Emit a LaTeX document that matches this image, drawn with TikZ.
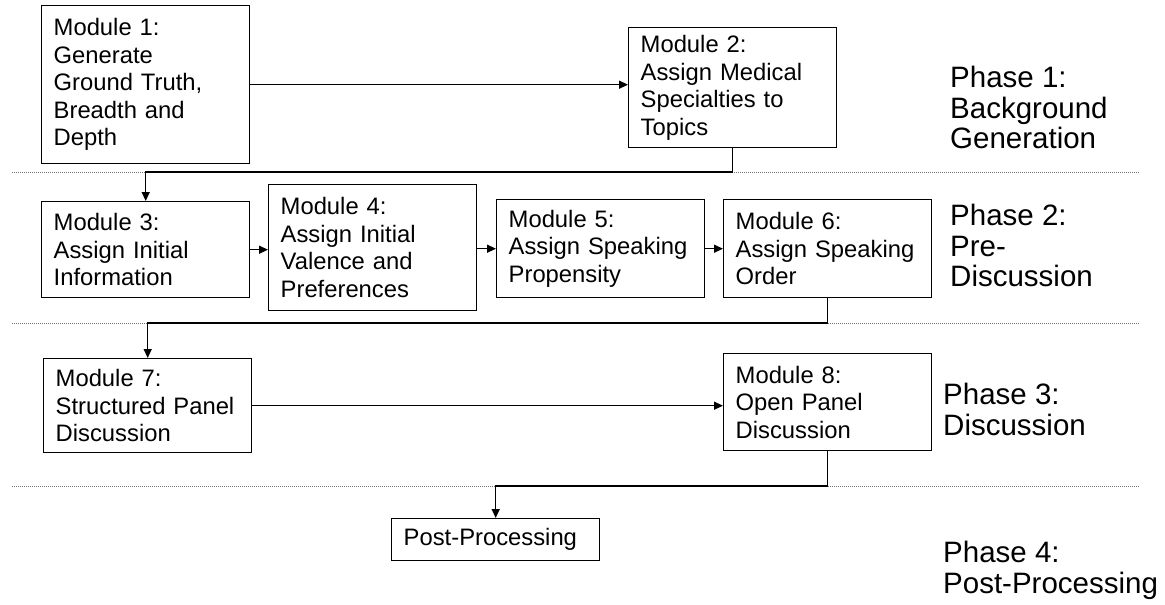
\documentclass[tikz,border=0pt]{standalone}
\usepackage{fontspec}
\setmainfont{Liberation Sans}
\usetikzlibrary{arrows.meta,positioning}
\tikzset{
  md/.style={draw=black,line width=1.4pt,anchor=north west,align=left,text width=184pt,inner xsep=12pt,inner ysep=0pt,font=\fontsize{23.8}{27.5}\selectfont},
  ph/.style={anchor=north west,align=left,inner sep=0pt,font=\fontsize{29.5}{30.5}\selectfont},
  sep/.style={draw=black!55,line width=1pt,dash pattern=on 1pt off 1pt},
  flw/.style={-{Triangle[length=9pt,width=8pt]},line width=1.4pt},
}

\begin{document}
\begin{tikzpicture}[x=1pt,y=-1pt]
\useasboundingbox (0,0) rectangle (1165,605);
% phase separators
\coordinate (s1a) at (12,172); \coordinate (s1b) at (1140,172);
\coordinate (s2a) at (12,323); \coordinate (s2b) at (1140,323);
\coordinate (s3a) at (12,486); \coordinate (s3b) at (1140,486);
\draw[sep] (s1a)--(s1b) (s2a)--(s2b) (s3a)--(s3b);
% modules
\node[md,minimum height=158pt] (m1) at (41,5) {Module 1:\\Generate\\Ground Truth,\\Breadth and\\Depth};
\node[md,minimum height=120pt] (m2) at (628,27) {Module 2:\\Assign Medical\\Specialties to\\Topics};
\node[md,minimum height=96pt] (m3) at (41,201) {Module 3:\\Assign Initial\\Information};
\node[md,minimum height=126pt] (m4) at (268,184) {Module 4:\\Assign Initial\\Valence and\\Preferences};
\node[md,minimum height=98pt] (m5) at (496,199) {Module 5:\\Assign Speaking\\Propensity};
\node[md,minimum height=98pt] (m6) at (723,199) {Module 6:\\Assign Speaking\\Order};
\node[md,minimum height=94pt] (m7) at (43,358) {Module 7:\\Structured Panel\\Discussion};
\node[md,minimum height=97pt] (m8) at (723,353) {Module 8:\\Open Panel\\Discussion};
\node[md,minimum height=42pt] (pp) at (391,518) {Post-Processing};
% phases
\node[ph] (p1) at (950,66) {Phase 1:\\Background\\Generation};
\node[ph] (p2) at (950,204) {Phase 2:\\Pre-\\Discussion};
\node[ph] (p3) at (943,383) {Phase 3:\\Discussion};
\node[ph] (p4) at (943,541) {Phase 4:\\Post-Processing};
% flow
\draw[flw] (m1.east) -- (m1.east -| m2.west);
\draw[flw] (m2.south) |- (m3.north |- s1a) -- (m3.north);
\draw[flw] (m3.east) -- (m3.east -| m4.west);
\draw[flw] (m5.west -| m4.east) -- (m5.west);
\draw[flw] (m5.east) -- (m6.west);
\draw[flw] (m6.south) |- (m7.north |- s2a) -- (m7.north);
\draw[flw] (m7.east) -- (m7.east -| m8.west);
\draw[flw] (m8.south) |- (pp.north |- s3a) -- (pp.north);
\end{tikzpicture}
\end{document}
